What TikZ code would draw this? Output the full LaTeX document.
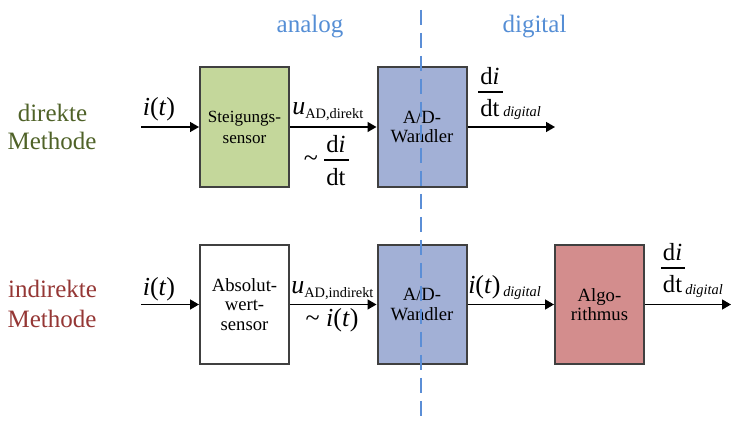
\documentclass[tikz,border=0pt]{standalone}
\usepackage{fontspec}
\setmainfont{Liberation Serif}
\usetikzlibrary{arrows.meta}
\definecolor{boxgreen}{HTML}{C4D79B}
\definecolor{boxblue}{HTML}{A2B0D6}
\definecolor{boxred}{HTML}{D38D8D}
\definecolor{bordergray}{HTML}{404040}
\definecolor{txtgreen}{HTML}{4F6228}
\definecolor{txtred}{HTML}{953735}
\definecolor{txtblue}{HTML}{558ED5}
\definecolor{dashblue}{HTML}{5B8ED6}
\newcommand{\subtxt}[1]{\raisebox{-3pt}{\fontsize{10.8}{11}\selectfont #1}}
\begin{document}
\begin{tikzpicture}[x=0.75pt,y=-0.75pt,
  blk/.style={draw=bordergray, line width=1.5pt, minimum width=66.75pt, minimum height=89.5pt,
    inner sep=0pt, align=center, font=\fontsize{14}{14.8}\selectfont},
  flow/.style={line width=1.1pt, -{Triangle[length=6.75pt,width=7.5pt]}},
  mlbl/.style={inner sep=0pt, font=\fontsize{19.5}{20}\selectfont},
  frlbl/.style={inner sep=0pt, font=\fontsize{18.5}{19}\selectfont, anchor=base},
  digi/.style={inner sep=0pt, font=\fontsize{10.8}{11}\selectfont\itshape, anchor=base west},
  barline/.style={line width=0.8pt},
  sidelbl/.style={inner sep=0pt, font=\fontsize{18.75}{20}\selectfont, anchor=base},
  dividerline/.style={draw=dashblue, line width=1.5pt, dash pattern=on 11.25pt off 6pt}
]
\useasboundingbox (0,0) rectangle (731,423);

% section labels
\node[sidelbl, text=txtblue] (analog) at (310,33) {analog};
\node[sidelbl, text=txtblue] (digital) at (534.5,33) {digital};
\node[sidelbl, text=txtgreen] (dir1) at (52.5,122) {direkte};
\node[sidelbl, text=txtgreen] (dir2) at (52,150) {Methode};
\node[sidelbl, text=txtred] (ind1) at (52.5,298) {indirekte};
\node[sidelbl, text=txtred] (ind2) at (52,328) {Methode};

% blocks
\node[blk, fill=boxgreen, font=\fontsize{12.8}{15.75}\selectfont] (s1) at (244.5,127) {Steigungs-\\sensor};
\node[blk, fill=boxblue] (ad1) at (422,127) {A/D-\\Wandler};
\node[blk, fill=white] (s2) at (244.5,304.5) {Absolut-\\wert-\\sensor};
\node[blk, fill=boxblue] (ad2) at (422,304.5) {A/D-\\Wandler};
\node[blk, fill=boxred] (alg) at (599.5,304.5) {Algo-\\rithmus};

% connectors
\coordinate (in1) at (141,127);
\coordinate (out1) at (555,127);
\coordinate (in2) at (141,304.5);
\coordinate (out2) at (731,304.5);
\draw[flow] (in1) -- (s1.west);
\draw[flow] (s1.east) -- (ad1.west);
\draw[flow] (ad1.east) -- (out1);
\draw[flow] (in2) -- (s2.west);
\draw[flow] (s2.east) -- (ad2.west);
\draw[flow] (ad2.east) -- (alg.west);
\draw[flow] (alg.east) -- (out2);

% divider
\coordinate (dtop) at (421,10);
\coordinate (dbot) at (421,423);
\draw[dividerline] (dtop) -- (dbot);

% row 1 labels
\node[mlbl, anchor=base] (it1) at (159,116) {\textit{i}(\textit{t})};
\node[mlbl, anchor=base west] (u1) at (292,115) {\textit{u}\subtxt{AD,direkt}};
\node[mlbl, anchor=center] (tl1) at (311,161) {\textasciitilde};
\node[frlbl] (f1n) at (336,153) {d\textit{i}};
\node[frlbl] (f1d) at (336,186) {dt};
\coordinate (f1a) at (324,160);
\coordinate (f1b) at (349,160);
\draw[barline] (f1a) -- (f1b);
\node[frlbl] (f2n) at (490,85) {d\textit{i}};
\node[frlbl] (f2d) at (490,117) {dt};
\coordinate (f2a) at (478,92);
\coordinate (f2b) at (503,92);
\draw[barline] (f2a) -- (f2b);
\node[digi] (dg1) at (503,117) {digital};

% row 2 labels
\node[mlbl, anchor=base] (it2) at (159,296) {\textit{i}(\textit{t})};
\node[mlbl, anchor=base west] (u2) at (291,294) {\textit{u}\subtxt{AD,indirekt}};
\node[mlbl, anchor=base] (tl2) at (332,327) {\textasciitilde\ \textit{i}(\textit{t})};
\node[mlbl, anchor=base west] (itd) at (468,294) {\textit{i}(\textit{t})};
\node[digi] (dg2) at (503,297) {digital};
\node[frlbl] (f3n) at (672.5,261) {d\textit{i}};
\node[frlbl] (f3d) at (672.5,293) {dt};
\coordinate (f3a) at (661,268);
\coordinate (f3b) at (685,268);
\draw[barline] (f3a) -- (f3b);
\node[digi] (dg3) at (685,295) {digital};
\end{tikzpicture}
\end{document}
